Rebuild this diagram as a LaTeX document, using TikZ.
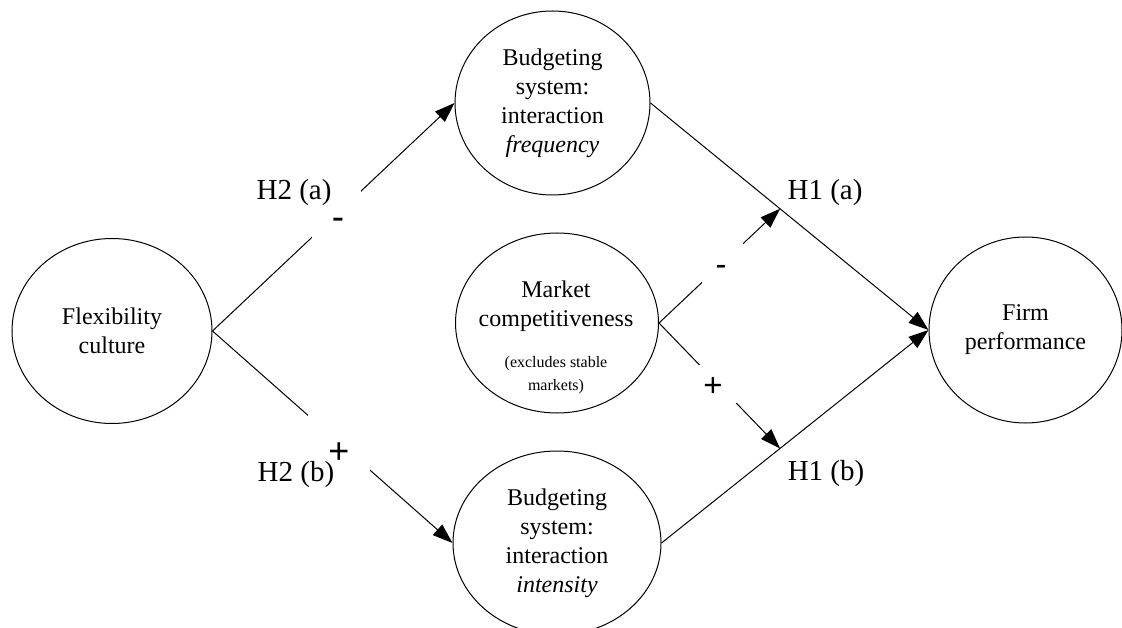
\documentclass[tikz,border=0pt]{standalone}
\usepackage{fontspec}
\setmainfont{Liberation Serif}
\newfontfamily\signfont{Liberation Sans}
\usetikzlibrary{arrows.meta,shapes.geometric,calc}
\begin{document}
\begin{tikzpicture}[x=1pt,y=-1pt,
  construct/.style={ellipse,draw,line width=1pt,inner sep=0pt,align=center,
    font=\fontsize{24}{29}\selectfont},
  link/.style={line width=1pt},
  arrowlink/.style={link,-{Triangle[length=20pt,width=14pt]}},
  gapbox/.style={fill=white,inner sep=0pt,minimum size=#1},
  hyp/.style={font=\fontsize{29}{34}\selectfont,inner sep=0pt},
  sign/.style={font=\signfont\fontsize{#1}{#1}\selectfont,inner sep=0pt}]
\useasboundingbox (0,0) rectangle (1122,628);

% constructs
\node[construct,minimum width=200pt,minimum height=185pt] (flex) at (112,331) {Flexibility\\culture};
\node[construct,minimum width=195pt,minimum height=184pt] (freq) at (552.5,103) {Budgeting\\system:\\interaction\\\textit{frequency}};
\node[construct,minimum width=208pt,minimum height=184pt] (inten) at (557,543) {Budgeting\\system:\\interaction\\\textit{intensity}};
\node[construct,minimum width=203pt,minimum height=180pt] (market) at (557,323) {};
\node[construct,minimum width=193pt,minimum height=186pt] (firm) at (1025.5,330) {Firm\\performance};

% text of the moderator
\node[align=center,inner sep=0pt,font=\fontsize{24}{29}\selectfont] (mtitle) at (556,306) {Market\\competitiveness};
\node[align=center,inner sep=0pt,font=\fontsize{16}{23}\selectfont] (msub) at (556,375) {(excludes stable\\markets)};

% main effects
\draw[arrowlink] (freq.east) -- coordinate[pos=0.466] (ta) (firm.west);
\draw[arrowlink] (inten.east) -- coordinate[pos=0.444] (tb) (firm.west);

% culture to budgeting system
\draw[arrowlink] (flex.east) -- node[gapbox=49pt,pos=0.512] (g1) {} (freq.west);
\draw[arrowlink] (flex.east) -- node[gapbox=62pt,pos=0.527] (g2) {} (inten.west);

% moderation
\draw[arrowlink] (market.east) -- node[gapbox=41pt,pos=0.525] (g3) {} (ta);
\draw[arrowlink] (market.east) -- node[gapbox=38pt,pos=0.484] (g4) {} (tb);

% signs
\node[sign=37] (s1) at (338,224) {-};
\node[sign=36] (s2) at (339,453) {+};
\node[sign=33] (s3) at (721,270) {-};
\node[sign=33] (s4) at (713,387) {+};

% hypothesis labels
\node[hyp] (h2a) at (294,193) {H2 (a)};
\node[hyp] (h2b) at (296,475) {H2 (b)};
\node[hyp] (h1a) at (825,193) {H1 (a)};
\node[hyp] (h1b) at (826,474) {H1 (b)};
\end{tikzpicture}
\end{document}
